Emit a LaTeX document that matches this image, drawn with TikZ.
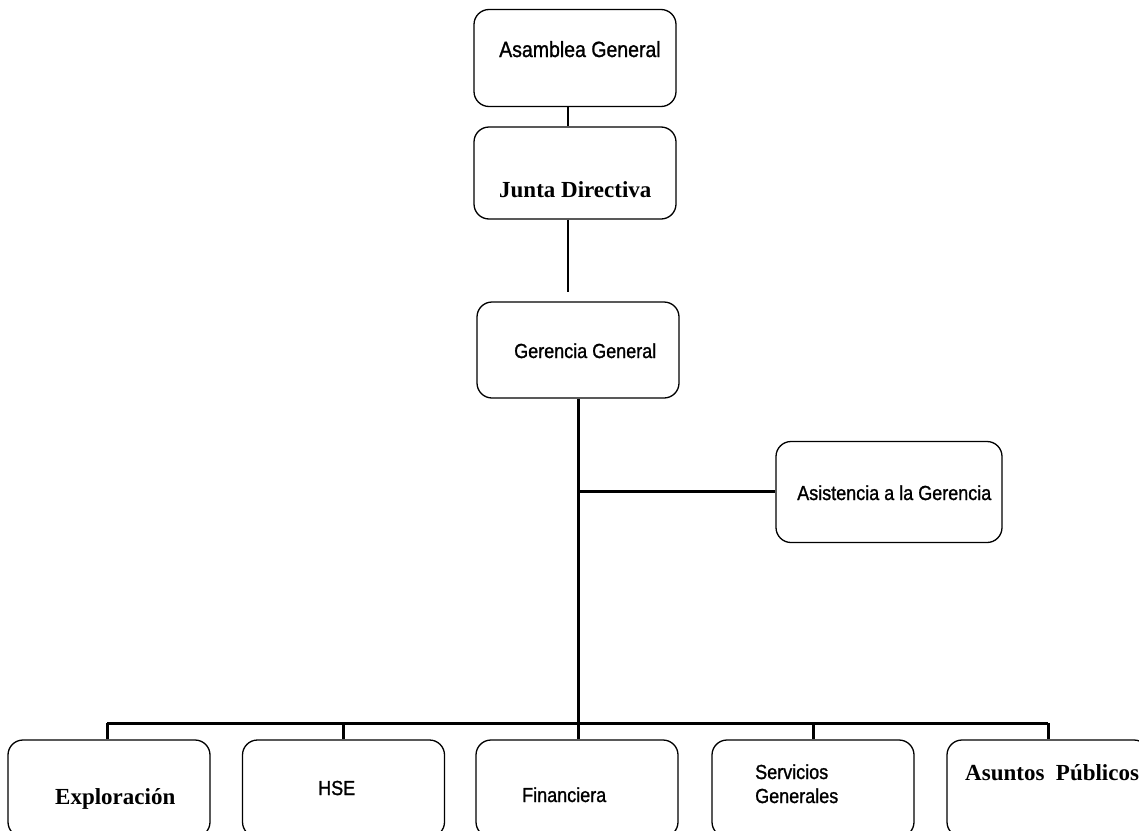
\documentclass[tikz,border=0pt]{standalone}
\usepackage{fontspec}
\usepackage{graphicx}
\setmainfont{Liberation Serif}
\setsansfont{Liberation Sans}
\newfontfamily\heavysans[FakeBold=1.2]{Liberation Sans}
\newcommand{\tallsans}[1]{\scalebox{1}[1.13]{#1}}
\begin{document}
\begin{tikzpicture}[x=1pt,y=-1pt,
  unitbox/.style={draw=black, line width=1.3pt, rounded corners=15pt,
    minimum width=202pt, minimum height=97pt, inner sep=0pt},
  sanslabel/.style={anchor=base west, inner sep=0pt, font=\heavysans\fontsize{18}{20}\selectfont},
  seriflabel/.style={anchor=base west, inner sep=0pt, font=\rmfamily\bfseries\fontsize{23}{25}\selectfont},
  thinline/.style={line width=1.3pt},
  thickline/.style={line width=3pt}]
\useasboundingbox (0,0) rectangle (1139,830);
\clip (0,0) rectangle (1139,830);

% upper levels
\node[unitbox] (asam) at (575,58) {};
\node[sanslabel, font=\heavysans\fontsize{19.5}{21}\selectfont] (asamT) at (499,57) {\tallsans{Asamblea General}};
\node[unitbox, minimum height=92pt] (junta) at (575,173) {};
\node[seriflabel] (juntaT) at (499,197) {Junta Directiva};
\node[unitbox, minimum height=96pt] (ger) at (578,350) {};
\node[sanslabel] (gerT) at (514,358) {\tallsans{Gerencia General}};
\node[unitbox, minimum width=226pt, minimum height=101pt] (asis) at (889,492) {};
\node[sanslabel] (asisT) at (797,500) {\tallsans{Asistencia a la Gerencia}};

% departments
\node[unitbox] (expl) at (109,788.5) {};
\node[seriflabel] (explT) at (55,804) {Exploración};
\node[unitbox] (hse) at (343.5,788.5) {};
\node[sanslabel] (hseT) at (318,795) {\tallsans{HSE}};
\node[unitbox] (fin) at (577,788.5) {};
\node[sanslabel] (finT) at (522,802) {\tallsans{Financiera}};
\node[unitbox] (serv) at (813,788.5) {};
\node[sanslabel] (servT) at (755,779) {\tallsans{Servicios}};
\node[sanslabel] (servT2) at (755,803) {\tallsans{Generales}};
\node[unitbox] (asun) at (1048,788.5) {};
\node[seriflabel] (asunT) at (965,780) {Asuntos\ \ Públicos};

% connectors
\coordinate (jEnd) at (568,292);
\coordinate (busMid) at (578,723);
\coordinate (busL) at (107,723);
\coordinate (busR) at (1048,723);
\coordinate (asisJ) at (578,491);
\draw[thinline] (asam.south -| 568,0) -- (junta.north -| 568,0);
\draw[thinline] (junta.south -| 568,0) -- (jEnd);
\draw[thickline] (ger.south -| busMid) -- (busMid);
\draw[thickline] (asisJ) -- (asis.west |- asisJ);
\draw[thickline] (busL) -- (busR);
\draw[thickline] (busL) -- (expl.north -| busL);
\draw[thickline] (343,723) -- (hse.north -| 343,0);
\draw[thickline] (busMid) -- (fin.north -| busMid);
\draw[thickline] (813,723) -- (serv.north -| 813,0);
\draw[thickline] (busR) -- (asun.north -| busR);
\end{tikzpicture}
\end{document}
